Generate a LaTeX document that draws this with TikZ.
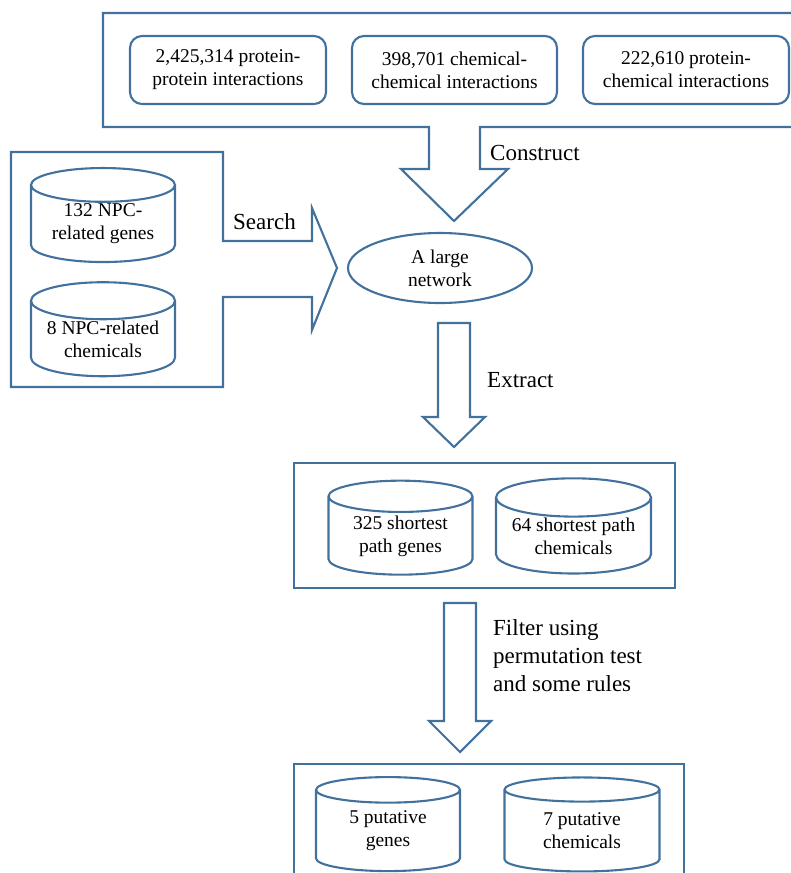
\documentclass[tikz,border=0pt]{standalone}
\usepackage{fontspec}
\setmainfont{Liberation Serif}
\usetikzlibrary{shapes.geometric}
\definecolor{boxblue}{RGB}{65,113,156}

\tikzset{
  outline/.style={draw=boxblue, line width=2.1pt, line join=miter},
  dbtext/.style={font=\fontsize{19.5}{23}\selectfont, align=center},
  database/.style={cylinder, shape border rotate=90, aspect=0.33, draw=boxblue,
    line width=2.1pt, dbtext, minimum width=144pt, minimum height=94pt, inner sep=0pt},
  widedb/.style={database, minimum width=155pt, aspect=0.31},
  source/.style={rectangle, rounded corners=12pt, draw=boxblue, line width=2.1pt,
    dbtext, minimum height=68pt},
  steplabel/.style={font=\fontsize{23}{28}\selectfont, align=left, anchor=west, inner sep=0pt}
}

\begin{document}
\begin{tikzpicture}[x=1pt,y=-1pt]
    \useasboundingbox (0,0) rectangle (791,873);
    \clip (0,0) rectangle (791,873);
    % interaction sources and the construct arrow
    \draw[outline] (800,13) -- (103,13) -- (103,127) -- (429,127) -- (429,169) -- (401,169)
        -- (454,221) -- (508,169) -- (480,169) -- (480,127) -- (800,127);
    \node[source, minimum width=196pt] (ppi) at (228,70) {2,425,314 protein-\\protein interactions};
    \node[source, minimum width=205pt] (cci) at (454.5,70) {398,701 chemical-\\chemical interactions};
    \node[source, minimum width=206pt] (pci) at (686,70) {222,610 protein-\\chemical interactions};
    \node[steplabel] (construct) at (490,153) {Construct};
    % NPC-related data and the search arrow
    \draw[outline] (223,241) -- (312,241) -- (312,208) -- (337,268) -- (312,330) -- (312,297)
        -- (223,297) -- (223,387) -- (11,387) -- (11,152) -- (223,152) -- cycle;
    \node[database] (npcgenes) at (103,224) {132 NPC-\\related genes};
    \node[database] (npcchem) at (103,339) {8 NPC-related\\chemicals};
    \node[steplabel] (search) at (233,222) {Search};
    % the network
    \node[ellipse, draw=boxblue, line width=2.1pt, dbtext, inner sep=0pt,
        minimum width=184pt, minimum height=70pt] (net) at (440,268) {A large\\network};
    % extract
    \draw[outline] (438,323) -- (470,323) -- (470,417) -- (485,417) -- (454,447)
        -- (423,417) -- (438,417) -- cycle;
    \node[steplabel] (extract) at (487,380) {Extract};
    \draw[outline] (294,463) rectangle (675,588);
    \node[database] (spgenes) at (400.5,536) {325 shortest\\path genes};
    \node[widedb] (spchem) at (573.5,536) {64 shortest path\\chemicals};
    % filter
    \draw[outline] (444,603) -- (476,603) -- (476,721) -- (491,721) -- (460,752)
        -- (429,721) -- (444,721) -- cycle;
    \node[steplabel] (filter) at (493,656) {Filter using\\permutation test\\and some rules};
    \draw[outline] (294,890) -- (294,764) -- (684,764) -- (684,890);
    \node[database] (putgenes) at (388,831) {5 putative\\genes};
    \node[widedb] (putchem) at (582,831) {7 putative\\chemicals};
\end{tikzpicture}
\end{document}
